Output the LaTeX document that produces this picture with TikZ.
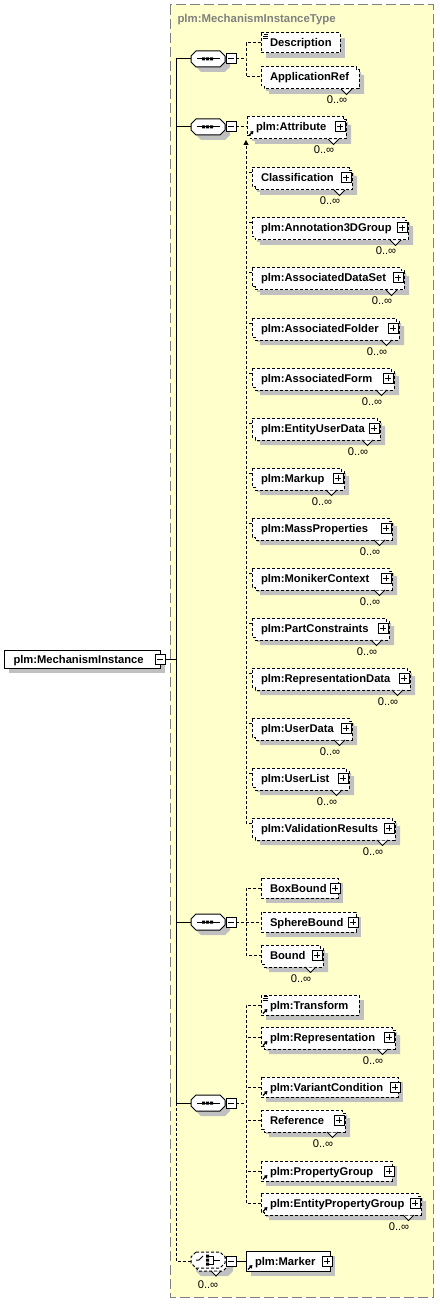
\documentclass[tikz,border=0pt]{standalone}
\usepackage{fontspec}
\setmainfont{Liberation Sans}
\usetikzlibrary{arrows.meta}
\definecolor{bgy}{RGB}{255,255,204}
\definecolor{shd}{RGB}{192,192,192}
\definecolor{ttl}{RGB}{128,128,128}
\definecolor{bord}{RGB}{128,128,128}
\tikzset{
  elt/.style={anchor=base west,inner sep=0pt,font=\fontsize{11.2}{13}\selectfont\bfseries},
  mult/.style={anchor=base,inner sep=0pt,font=\fontsize{11.2}{13}\selectfont},
  eldash/.style={dash pattern=on 3pt off 2pt},
  elsolid/.style={solid},
  cdash/.style={dash pattern=on 3pt off 2pt},
}
% single element box: [style]{name}{x0}{xr}{c}{text}
\newcommand{\elS}[6][eldash]{%
  \fill[shd] ({#3+5},{#5-5}) rectangle ({#4+5},{#5+15});
  \draw[#1,fill=white] (#3,{#5-10}) rectangle (#4,{#5+10});
  \coordinate (#2-w) at (#3,#5);
  \coordinate (#2-nw) at (#3,{#5-5});
  \node[elt] (#2) at ({#3+8.5},{#5+4}) {#6};
}
% multiple element box
\newcommand{\elM}[6][eldash]{%
  \fill[shd] ({#3+5},{#5-5}) -- ({#4+5},{#5-5}) -- ({#4+5},{#5-2}) -- ({#4+8},{#5-2}) -- ({#4+8},{#5+17}) -- ({#3+8},{#5+17}) -- ({#3+8},{#5+14}) -- ({#3+5},{#5+14}) -- cycle;
  \draw[#1,fill=white] (#3,{#5-10}) -- (#4,{#5-10}) -- (#4,{#5-7}) -- ({#4+3},{#5-7}) -- ({#4+3},{#5+12}) -- ({#3+3},{#5+12}) -- ({#3+3},{#5+9}) -- (#3,{#5+9}) -- cycle;
  \fill[white] ({#4-15},{#5+12.5}) -- ({#4-9.5},{#5+18}) -- ({#4-4},{#5+12.5}) -- cycle;
  \draw ({#4-15},{#5+12}) -- ({#4-9.5},{#5+17.5}) -- ({#4-4},{#5+12});
  \coordinate (#2-w) at (#3,#5);
  \coordinate (#2-nw) at (#3,{#5-5});
  \node[elt] (#2) at ({#3+8.5},{#5+4}) {#6};
  \node[mult] (#2-m) at ({#4-19},{#5+27}) {0..∞};
}
\newcommand{\plusb}[2]{%
  \draw[solid,fill=white] ({#1-8},{#2-5}) rectangle ({#1+2},{#2+5});
  \draw[solid] ({#1-3},{#2-3}) -- ({#1-3},{#2+3}) ({#1-6},{#2}) -- ({#1},{#2});
}
\newcommand{\minusb}[2]{%
  \draw[fill=white] ({#1-5},{#2-5}) rectangle ({#1+5},{#2+5});
  \draw ({#1-3},{#2}) -- ({#1+3},{#2});
}
\newcommand{\refar}[2]{\draw[line width=1.3pt,-{Triangle[length=3pt,width=3.8pt]}] ({#1+2},{#2+8.5}) -- ({#1+6.5},{#2+4});}
\newcommand{\simpl}[2]{\draw[line width=0.8pt] ({#1+2.5},{#2-8.5}) -- ({#1+7},{#2-8.5}) ({#1+2},{#2-6.5}) -- ({#1+7},{#2-6.5}) ({#1+2},{#2-4.5}) -- ({#1+7},{#2-4.5});}
\newcommand{\seqi}[2]{%
  \fill[shd] (201,{#2-3}) -- (225,{#2-3}) -- (230,{#2+2}) -- (230,{#2+8}) -- (225,{#2+13}) -- (201,{#2+13}) -- (196,{#2+8}) -- (196,{#2+2}) -- cycle;
  \draw[fill=white] (196,{#2-8}) -- (220,{#2-8}) -- (225,{#2-3}) -- (225,{#2+3}) -- (220,{#2+8}) -- (196,{#2+8}) -- (191,{#2+3}) -- (191,{#2-3}) -- cycle;
  \draw (197,#2) -- (220,#2);
  \fill (202,{#2-1.5}) rectangle (205,{#2+1.5}) (206,{#2-1.5}) rectangle (209,{#2+1.5}) (210,{#2-1.5}) rectangle (213,{#2+1.5});
  \draw[fill=white] (226,{#2-5}) rectangle (236,{#2+5});
  \draw (228,#2) -- (234,#2);
  \coordinate (#1w) at (191,#2);
  \coordinate (#1e) at (236,#2);
}
\begin{document}
\begin{tikzpicture}[x=1pt,y=-1pt,line width=1pt]
\useasboundingbox (0,0) rectangle (439,1305);
\fill[white] (0,0) rectangle (439,1305);
\draw[bord,dash pattern=on 10pt off 4pt,fill=bgy] (170,5) rectangle (433,1297);
\node[anchor=base west,inner sep=0pt,text=ttl,font=\fontsize{11.4}{13}\selectfont\bfseries] (title) at (177,23) {plm:MechanismInstanceType};

% main element
\fill[shd] (9,655) rectangle (165,673);
\draw[fill=white] (4,650) rectangle (160,668);
\node[elt] (main) at (13,663) {plm:MechanismInstance};
\minusb{160}{659}
\coordinate (me) at (165,659);

% compositor icons
\seqi{s1}{59}
\seqi{s2}{127}
\seqi{s3}{922}
\seqi{s4}{1103}

% choice icon (optional, unbounded)
\fill[shd] (201,1257) -- (228,1257) -- (233,1262) -- (233,1271) -- (228,1276) -- (201,1276) -- (196,1271) -- (196,1262) -- cycle;
\draw[eldash,fill=white] (199,1255) -- (223,1255) -- (228,1260) -- (228,1266) -- (223,1271) -- (199,1271) -- (194,1266) -- (194,1260) -- cycle;
\draw[eldash,fill=white] (196,1252) -- (220,1252) -- (225,1257) -- (225,1263) -- (220,1268) -- (196,1268) -- (191,1263) -- (191,1257) -- cycle;
\fill[white] (211,1271.5) -- (216,1276.5) -- (221,1271.5) -- cycle;
\draw (211,1271) -- (216,1276) -- (221,1271);
\draw (196,1260) -- (199,1260) -- (203,1256);
\fill (206,1254.5) rectangle (209,1257.5) (206,1258.5) rectangle (209,1261.5) (206,1262.5) rectangle (209,1265.5);
\draw (209,1256) -- (213,1256) -- (213,1264) -- (209,1264) (213,1260) -- (220,1260);
\draw[fill=white] (226,1256) rectangle (236,1266);
\draw (228,1261) -- (234,1261);
\coordinate (s5w) at (191,1261);
\coordinate (s5e) at (236,1261);
\node[mult] (s5-m) at (208,1288) {0..∞};

% group 1
\elS{desc}{261}{340}{43}{Description}
\simpl{261}{43}
\elM{appref}{261}{356}{77}{ApplicationRef}

% group 2
\elM{attr}{247}{343}{127}{plm:Attribute}\plusb{343}{127}\refar{247}{127}
\elM{class}{252}{349}{178}{Classification}\plusb{349}{178}
\elM{a3d}{252}{405}{228}{plm:Annotation3DGroup}\plusb{405}{228}
\elM{ads}{252}{401}{278}{plm:AssociatedDataSet}\plusb{401}{278}
\elM{afold}{252}{396}{328}{plm:AssociatedFolder}\plusb{396}{328}
\elM{aform}{252}{391}{378}{plm:AssociatedForm}\plusb{391}{378}
\elM{eud}{252}{377}{428}{plm:EntityUserData}\plusb{377}{428}
\elM{markup}{252}{341}{478}{plm:Markup}\plusb{341}{478}
\elM{mass}{252}{389}{528}{plm:MassProperties}\plusb{389}{528}
\elM{mon}{252}{389}{578}{plm:MonikerContext}\plusb{389}{578}
\elM{part}{252}{386}{628}{plm:PartConstraints}\plusb{386}{628}
\elM{repd}{252}{407}{678}{plm:RepresentationData}\plusb{407}{678}
\elM{ud}{252}{349}{728}{plm:UserData}\plusb{349}{728}
\elM{ul}{252}{346}{778}{plm:UserList}\plusb{346}{778}
\elM{vr}{252}{392}{828}{plm:ValidationResults}\plusb{392}{828}

% group 3
\elS{bb}{261}{338}{888}{BoxBound}\plusb{338}{888}
\elS{sb}{261}{356}{922}{SphereBound}\plusb{356}{922}
\elM{bnd}{261}{320}{955}{Bound}\plusb{320}{955}

% group 4
\elS{tr}{261}{359}{1005}{plm:Transform}\simpl{261}{1005}\refar{261}{1005}
\elM{rep}{261}{392}{1037}{plm:Representation}\plusb{392}{1037}\refar{261}{1037}
\elS{vc}{261}{398}{1087}{plm:VariantCondition}\plusb{398}{1087}\refar{261}{1087}
\elM{refe}{261}{342}{1120}{Reference}\plusb{342}{1120}
\elS{pg}{261}{392}{1171}{plm:PropertyGroup}\plusb{392}{1171}\refar{261}{1171}
\elM{epg}{261}{418}{1203}{plm:EntityPropertyGroup}\plusb{418}{1203}\refar{261}{1203}

% group 5
\elS[elsolid]{marker}{246}{330}{1261}{plm:Marker}\plusb{330}{1261}\refar{246}{1261}

% spine connectors
\coordinate (sp1) at (176,59);
\coordinate (sp4) at (176,1103);
\draw (s1w) -- (sp1) -- (sp4) -- (s4w);
\draw (s2w) -- (s2w -| sp1);
\draw (s3w) -- (s3w -| sp1);
\draw (me) -- (me -| sp1);
\draw[cdash] (sp4) |- (s5w);

% group connectors
\coordinate (g1v) at (246,59);
\draw[cdash] (s1e) -- (g1v);
\draw[cdash] (desc-w) -| (g1v) |- (appref-w);

\coordinate (g2v) at (246,140);
\draw[cdash] (s2e) -- (attr-w);
\draw[cdash,-{Triangle[length=5pt,width=5pt]}] (vr-nw) -| (g2v);
\foreach \nm in {class,a3d,ads,afold,aform,eud,markup,mass,mon,part,repd,ud,ul}
  \draw[cdash] (\nm-nw) -- (\nm-nw -| g2v);

\coordinate (g3v) at (246,922);
\draw[cdash] (s3e) -- (sb-w);
\draw[cdash] (bb-w) -| (g3v) |- (bnd-w);

\coordinate (g4v) at (246,1103);
\draw[cdash] (s4e) -- (g4v);
\draw[cdash] (tr-w) -| (g4v) |- (epg-w);
\foreach \nm in {rep,vc,refe,pg}
  \draw[cdash] (\nm-w) -- (\nm-w -| g4v);

\draw (s5e) -- (marker-w);
\end{tikzpicture}
\end{document}
